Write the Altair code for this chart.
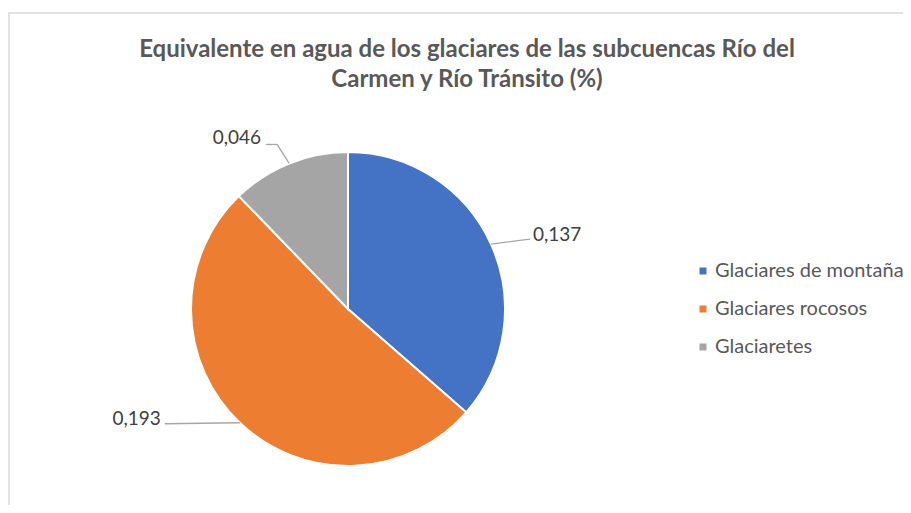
import altair as alt
import pandas as pd

# ---- data ----
categories = ["Glaciares de montaña", "Glaciares rocosos", "Glaciaretes"]
values = [0.137, 0.193, 0.046]
labels = ["0,137", "0,193", "0,046"]
colors = ["#4472C4", "#ED7D31", "#A5A5A5"]
title_lines = ["Equivalente en agua de los glaciares de las subcuencas Río del",
               "Carmen y Río Tránsito (%)"]

df = pd.DataFrame({
    "category": categories,
    "value": values,
    "label": labels,
    "order": list(range(len(categories))),
})

# ---- layout (pixels, chart coordinates) ----
W, H = 895, 497
CX, CY, R = 340, 301, 157
FONT = "Lato"

# leader-line bends and label anchors, as offsets from the slice's rim midpoint
leaders = {
    "Glaciares de montaña": {"pts": [(39, -5)], "text": (42, -3), "align": "left"},
    "Glaciares rocosos": {"pts": [(-75, 1)], "text": (-79, 2), "align": "right"},
    "Glaciaretes": {"pts": [(-12, -19), (-23, -19)], "text": (-28, -19), "align": "right"},
}

base = (
    alt.Chart(df)
    .transform_joinaggregate(total="sum(value)")
    .transform_window(cum="sum(value)", sort=[alt.SortField("order")])
    .transform_calculate(
        mid="2*PI*(datum.cum - datum.value/2)/datum.total",
    )
    .transform_calculate(
        rx=f"{CX} + {R}*sin(datum.mid)",
        ry=f"{CY} - {R}*cos(datum.mid)",
    )
)

border = alt.Chart(pd.DataFrame({"k": [0]})).mark_rect(
    fillOpacity=0, stroke="#D9D9D9", strokeWidth=1.5
).encode(x=alt.value(1), y=alt.value(5), x2=alt.value(1400), y2=alt.value(1400))

title = alt.Chart(pd.DataFrame({"k": [0]})).mark_text(
    font=FONT, fontSize=24, fontWeight="bold", color="#595959",
    align="center", baseline="alphabetic", lineHeight=30,
).encode(x=alt.value(459), y=alt.value(49), text=alt.value(title_lines))

pie = alt.Chart(df).mark_arc(outerRadius=R, stroke="white", strokeWidth=2).encode(
    theta=alt.Theta("value:Q", stack=True),
    order=alt.Order("order:Q"),
    color=alt.Color(
        "category:N",
        scale=alt.Scale(domain=categories, range=colors),
        sort=categories,
        legend=alt.Legend(
            title=None, orient="none", legendX=685, legendY=253,
            symbolType="square", symbolSize=49, symbolStrokeWidth=0,
            labelFont=FONT, labelFontSize=20, labelColor="#595959",
            labelOffset=2, rowPadding=18, padding=0, labelLimit=0,
        ),
    ),
    x=alt.value(CX),
    y=alt.value(CY),
)

layers = [border, title, pie]
for cat, spec in leaders.items():
    prev = ("datum.rx", "datum.ry")
    sub = base.transform_filter(alt.datum.category == cat)
    for i, (dx, dy) in enumerate(spec["pts"]):
        seg = sub.transform_calculate(
            sx=prev[0], sy=prev[1],
            ex=f"datum.rx + {dx}", ey=f"datum.ry + {dy}",
        ).mark_rule(color="#A6A6A6", strokeWidth=1.3).encode(
            x=alt.X("sx:Q", scale=None),
            y=alt.Y("sy:Q", scale=None),
            x2="ex:Q",
            y2="ey:Q",
        )
        layers.append(seg)
        prev = (f"datum.rx + {dx}", f"datum.ry + {dy}")
    tdx, tdy = spec["text"]
    txt = sub.transform_calculate(
        tx=f"datum.rx + {tdx}", ty=f"datum.ry + {tdy}"
    ).mark_text(
        font=FONT, fontSize=19, color="#404040",
        align=spec["align"], baseline="alphabetic",
    ).encode(
        x=alt.X("tx:Q", scale=None),
        y=alt.Y("ty:Q", scale=None),
        text="label:N",
    )
    layers.append(txt)

chart = alt.layer(*layers).properties(
    width=W, height=H,
    autosize=alt.AutoSizeParams(type="none"),
    padding=0,
).configure_view(strokeWidth=0)

chart.save("out.html", embed_options={"renderer": "svg", "actions": False})
